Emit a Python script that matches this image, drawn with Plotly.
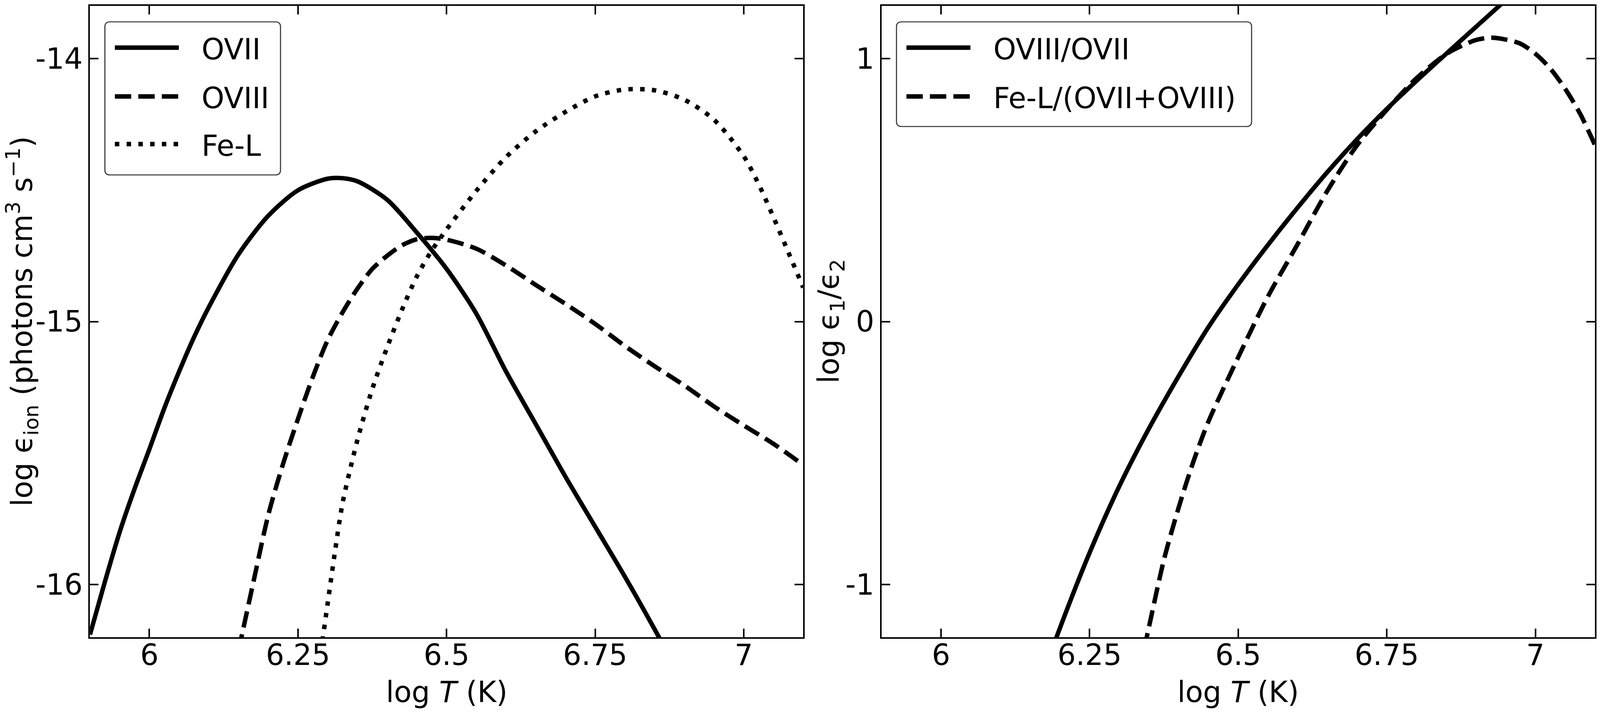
import plotly.graph_objects as go

# reference canvas (pixels); sizes are scaled by S for the narrower browser page
W, H = 4944, 1844
S = 0.91
FONT = "DejaVu Sans"
FS = round(81 * S)
LW = 12.5 * S
DASH = f"{46 * S:.1f}px,{20 * S:.1f}px"
DOT = f"{12.5 * S:.1f}px,{20.5 * S:.1f}px"

# --- left panel: log emissivity vs log T ---
t_ovii = [5.90, 5.925, 5.95, 5.975, 6.00, 6.025, 6.05, 6.075, 6.10, 6.15, 6.20, 6.25, 6.30,
          6.325, 6.35, 6.40, 6.45, 6.50, 6.55, 6.60, 6.65, 6.70, 6.75, 6.80, 6.85, 6.90]
eps_ovii = [-16.19, -15.99, -15.80, -15.636, -15.485, -15.33, -15.19, -15.06, -14.945, -14.744,
            -14.598, -14.501, -14.457, -14.455, -14.467, -14.537, -14.662, -14.80, -14.97,
            -15.19, -15.39, -15.59, -15.78, -15.97, -16.17, -16.38]

t_oviii = [6.15, 6.175, 6.20, 6.225, 6.25, 6.275, 6.30, 6.325, 6.35, 6.375, 6.40, 6.425,
           6.45, 6.475, 6.50, 6.55, 6.60, 6.65, 6.70, 6.75, 6.80, 6.85, 6.90, 6.95, 7.00,
           7.05, 7.10]
eps_oviii = [-16.25, -15.99, -15.735, -15.54, -15.37, -15.21, -15.07, -14.965, -14.875,
             -14.80, -14.75, -14.71, -14.687, -14.682, -14.689, -14.723, -14.787, -14.861,
             -14.933, -15.009, -15.093, -15.170, -15.243, -15.323, -15.395, -15.465, -15.545]

t_fel = [6.28, 6.29, 6.30, 6.3125, 6.325, 6.35, 6.375, 6.40, 6.425, 6.45, 6.475, 6.50, 6.55,
         6.60, 6.65, 6.70, 6.75, 6.80, 6.85, 6.90, 6.95, 7.00, 7.025, 7.05, 7.075, 7.10]
eps_fel = [-16.39, -16.23, -16.07, -15.87, -15.69, -15.45, -15.256, -15.098, -14.955, -14.828,
           -14.73, -14.65, -14.503, -14.375, -14.277, -14.203, -14.144, -14.118, -14.121,
           -14.157, -14.233, -14.372, -14.478, -14.604, -14.737, -14.871]

# --- right panel: log emissivity ratios ---
t_r1 = [6.15, 6.20, 6.25, 6.30, 6.35, 6.40, 6.45, 6.50, 6.55, 6.60, 6.65, 6.70, 6.75,
        6.80, 6.85, 6.90, 6.95]
ratio_o8_o7 = [-1.48, -1.166, -0.879, -0.626, -0.406, -0.207, -0.021, 0.141, 0.291, 0.433,
               0.568, 0.693, 0.808, 0.915, 1.018, 1.120, 1.222]

t_r2 = [6.325, 6.35, 6.375, 6.40, 6.425, 6.45, 6.50, 6.55, 6.60, 6.65, 6.70, 6.75, 6.80,
        6.85, 6.875, 6.90, 6.925, 6.95, 6.975, 7.00, 7.025, 7.05, 7.075, 7.10]
ratio_fe_o = [-1.42, -1.160, -0.906, -0.706, -0.530, -0.380, -0.136, 0.095, 0.294, 0.497,
              0.670, 0.805, 0.925, 1.017, 1.047, 1.070, 1.079, 1.072, 1.056, 1.018, 0.962,
              0.885, 0.791, 0.672]

x_ticks = [6, 6.25, 6.5, 6.75, 7]
x_labels = ["6", "6.25", "6.5", "6.75", "7"]
y1_ticks = [-16, -15, -14]
y1_labels = ["-16", "-15", "-14"]
y2_ticks = [-1, 0, 1]
y2_labels = ["-1", "0", "1"]


def px(x):
    return x / W


def py(y):
    return 1 - y / H


fig = go.Figure()

left = [
    (t_ovii, eps_ovii, "OVII", "solid"),
    (t_oviii, eps_oviii, "OVIII", DASH),
    (t_fel, eps_fel, "Fe-L", DOT),
]
right = [
    (t_r1, ratio_o8_o7, "OVIII/OVII", "solid"),
    (t_r2, ratio_fe_o, "Fe-L/(OVII+OVIII)", DASH),
]
for xs, ys, name, dash in left:
    fig.add_scatter(x=xs, y=ys, name=name, mode="lines", xaxis="x", yaxis="y",
                    line=dict(color="black", width=LW, dash=dash, shape="spline", smoothing=0.8),
                    showlegend=False)
for xs, ys, name, dash in right:
    fig.add_scatter(x=xs, y=ys, name=name, mode="lines", xaxis="x2", yaxis="y2",
                    line=dict(color="black", width=LW, dash=dash, shape="spline", smoothing=0.8),
                    showlegend=False)

ax = dict(showline=True, linecolor="black", linewidth=4 * S, mirror="ticks",
          ticks="inside", ticklen=round(24 * S), tickwidth=4 * S, tickcolor="black",
          showgrid=False, zeroline=False,
          tickfont=dict(family=FONT, size=FS, color="black"))
xax = dict(ax, range=[5.9, 7.1], tickvals=x_ticks, ticktext=x_labels,
           ticklabelstandoff=-22)

ydom = [py(1632), py(15)]
fig.update_layout(
    autosize=True,
    margin=dict(l=0, r=0, t=0, b=0),
    paper_bgcolor="white", plot_bgcolor="white",
    font=dict(family=FONT, size=FS, color="black"),
    xaxis=dict(xax, domain=[px(278), px(2482)], anchor="y"),
    yaxis=dict(ax, domain=ydom, range=[-16.2, -13.8], anchor="x",
               tickvals=y1_ticks, ticktext=y1_labels),
    xaxis2=dict(xax, domain=[px(2724), px(4928)], anchor="y2"),
    yaxis2=dict(ax, domain=ydom, range=[-1.2, 1.2], anchor="x2",
                tickvals=y2_ticks, ticktext=y2_labels),
    showlegend=False,
)

# axis titles
ann = []
for cx in (1380, 3826):
    ann.append(dict(x=px(cx), y=py(1772), xref="paper", yref="paper",
                    text="log <i>T</i> (K)", showarrow=False,
                    xanchor="center", yanchor="middle"))
ann.append(dict(x=px(68), y=py(823), xref="paper", yref="paper", textangle=-90,
                text="log ϵ<sub>ion</sub> (photons cm<sup>3</sup> s<sup>−1</sup>)",
                showarrow=False, xanchor="center", yanchor="middle"))
ann.append(dict(x=px(2566), y=py(823), xref="paper", yref="paper", textangle=-90,
                text="log ϵ<sub>1</sub>/ϵ<sub>2</sub>",
                showarrow=False, xanchor="center", yanchor="middle"))

# hand-drawn legends, offsets in pixels from the left edge of each panel
shapes = []


def legend_box(anchor, x0, y0, x1, y1, r=14):
    x0, x1, r = x0 * S, x1 * S, r * S
    Y0, Y1 = py(y0), py(y1)
    ry = r / H
    path = (f"M {x0 + r},{Y0} L {x1 - r},{Y0} Q {x1},{Y0} {x1},{Y0 - ry} "
            f"L {x1},{Y1 + ry} Q {x1},{Y1} {x1 - r},{Y1} L {x0 + r},{Y1} "
            f"Q {x0},{Y1} {x0},{Y1 + ry} L {x0},{Y0 - ry} Q {x0},{Y0} {x0 + r},{Y0} Z")
    shapes.append(dict(type="path", xref="paper", yref="paper", xsizemode="pixel",
                       xanchor=anchor, path=path,
                       line=dict(color="#333333", width=3 * S), fillcolor="white",
                       layer="above"))


def legend_items(anchor, lx, items, ys):
    for (xs_, ys_, name, dash), yy in zip(items, ys):
        shapes.append(dict(type="line", xref="paper", yref="paper", xsizemode="pixel",
                           xanchor=anchor, x0=lx * S, x1=(lx + 180) * S, y0=py(yy), y1=py(yy),
                           line=dict(color="black", width=LW, dash=dash), layer="above"))
        ann.append(dict(x=anchor, xshift=(lx + 242) * S, y=py(yy + 4), xref="paper",
                        yref="paper", text=name, showarrow=False,
                        xanchor="left", yanchor="middle"))


legend_box(px(278), 42, 56, 536, 448)
legend_items(px(278), 70, left, [122, 247, 369])
legend_box(px(2724), 42, 56, 1041, 324)
legend_items(px(2724), 70, right, [122, 247])

fig.update_layout(annotations=ann, shapes=shapes)

fig.write_html(
    "out.html",
    default_width="100%",
    default_height="100vh",
    config={"displayModeBar": False},
    post_script="document.body.style.margin='0px';"
                "Plotly.Plots.resize(document.getElementById('{plot_id}'));",
)
